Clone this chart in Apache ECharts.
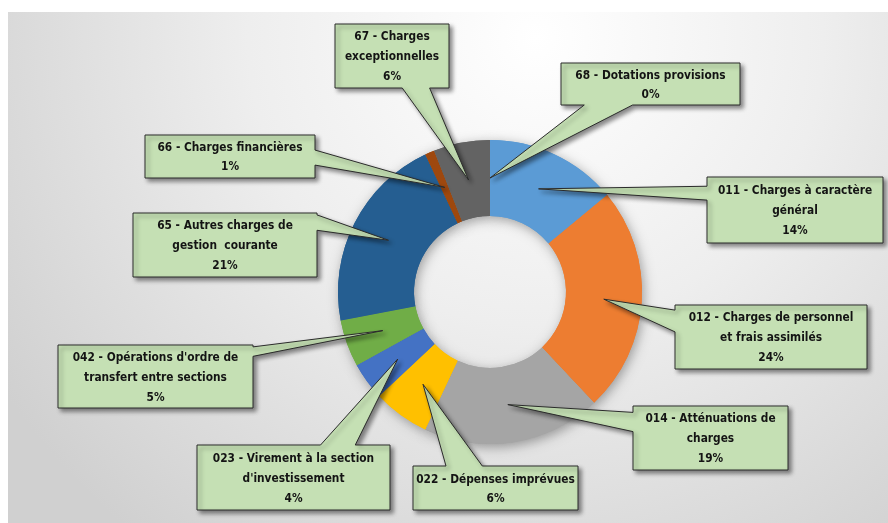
<!DOCTYPE html>
<html>
<head>
<meta charset="utf-8">
<script src="https://cdn.jsdelivr.net/npm/echarts@6/dist/echarts.min.js"></script>
<style>
  html, body { margin: 0; padding: 0; background: #ffffff; }
  #chart { width: 888px; height: 523px; }
</style>
</head>
<body>
<div id="chart"></div>
<script>
// Budget chapters (line breaks mark where each callout wraps)
const categories = [
  '011 - Charges à caractère\ngénéral',
  '012 - Charges de personnel\net frais assimilés',
  '014 - Atténuations de\ncharges',
  '022 - Dépenses imprévues',
  "023 - Virement à la section\nd'investissement",
  "042 - Opérations d'ordre de\ntransfert entre sections",
  '65 - Autres charges de\ngestion  courante',
  '66 - Charges financières',
  '67 - Charges\nexceptionnelles',
  '68 - Dotations provisions'
];
// Share of the total, in percent
const shares = [14, 24, 19, 6, 4, 5, 21, 1, 6, 0];
const sliceColors = ['#5B9BD5', '#ED7D31', '#A5A5A5', '#FFC000', '#4472C4',
                     '#70AD47', '#255E91', '#9E480E', '#636363', '#997300'];

// Callout boxes [left, top, right, bottom] and where the pointer leaves the box
const calloutBoxes = [
  [707, 177, 883, 243], [675, 305, 867, 369], [633, 406, 788, 470],
  [413, 466, 578, 510], [197, 445, 390, 510], [58, 345, 253, 408],
  [133, 213, 317, 277], [145, 135, 315, 178], [335, 24, 449, 88],
  [561, 63, 740, 105]
];
const pointerBases = [
  ['left', 0.14, 0.35], ['left', 0.08, 0.42], ['left', 0.10, 0.40],
  ['top', 0.20, 0.42], ['top', 0.64, 0.82], ['right', 0.03, 0.18],
  ['right', 0.03, 0.27], ['right', 0.35, 0.70], ['bottom', 0.59, 0.83],
  ['bottom', 0.13, 0.40]
];

// Pick a condensed face for the callout text when one is installed
function hasFont(family) {
  const ctx = document.createElement('canvas').getContext('2d');
  const sample = 'mmmmwwwwllliii 0123';
  ctx.font = 'bold 20px monospace';
  const ref = ctx.measureText(sample).width;
  ctx.font = 'bold 20px "' + family + '", monospace';
  return Math.abs(ctx.measureText(sample).width - ref) > 0.5;
}
let labelFont = { family: '"Liberation Sans", Arial, sans-serif', size: 12.5 };
if (hasFont('Liberation Sans Narrow')) {
  labelFont = { family: '"Liberation Sans Narrow", sans-serif', size: 15 };
} else if (hasFont('DejaVu Sans Condensed')) {
  labelFont = { family: '"DejaVu Sans Condensed", sans-serif', size: 11.8 };
}

const chart = echarts.init(document.getElementById('chart'), null, { renderer: 'canvas' });
const total = shares.reduce((a, b) => a + b, 0);
const pieData = categories.map((name, i) => ({
  name: name, value: shares[i], itemStyle: { color: sliceColors[i] }
}));

const ring = {
  type: 'pie',
  center: [490, 292],
  radius: [76, 152],
  startAngle: 90,
  clockwise: true,
  silent: true,
  avoidLabelOverlap: false,
  minAngle: 0,
  label: { show: false },
  labelLine: { show: false },
  animation: false,
  data: pieData
};

chart.setOption({
  backgroundColor: '#ffffff',
  animation: false,
  series: [
    // soft shadow under the ring
    Object.assign({}, ring, {
      z: 1,
      itemStyle: { shadowBlur: 12, shadowColor: 'rgba(0,0,0,0.35)', shadowOffsetX: 2, shadowOffsetY: 3 }
    }),
    Object.assign({}, ring, { z: 2, itemStyle: { borderWidth: 0 } })
  ]
});

// Pointer tip: middle of each slice, halfway through the ring
function sliceAnchor(i) {
  let lay = null;
  try {
    lay = chart.getModel().getSeriesByIndex(1).getData().getItemLayout(i);
  } catch (e) { lay = null; }
  if (!lay) {
    let acc = 0;
    for (let k = 0; k < i; k++) acc += shares[k];
    const a0 = -Math.PI / 2 + acc / total * 2 * Math.PI;
    const a1 = a0 + shares[i] / total * 2 * Math.PI;
    lay = { cx: 490, cy: 292, r: 152, r0: 76, startAngle: a0, endAngle: a1 };
  }
  const mid = (lay.startAngle + lay.endAngle) / 2;
  const rr = (lay.r + lay.r0) / 2;
  return [lay.cx + rr * Math.cos(mid), lay.cy + rr * Math.sin(mid)];
}

function calloutShape(box, base, tip) {
  const [x0, y0, x1, y1] = box;
  const [side, f0, f1] = base;
  const w = x1 - x0, h = y1 - y0;
  const pts = [[x0, y0]];
  if (side === 'top') pts.push([x0 + f0 * w, y0], tip, [x0 + f1 * w, y0]);
  pts.push([x1, y0]);
  if (side === 'right') pts.push([x1, y0 + f0 * h], tip, [x1, y0 + f1 * h]);
  pts.push([x1, y1]);
  if (side === 'bottom') pts.push([x0 + f1 * w, y1], tip, [x0 + f0 * w, y1]);
  pts.push([x0, y1]);
  if (side === 'left') pts.push([x0, y0 + f1 * h], tip, [x0, y0 + f0 * h]);
  return pts;
}

const elements = [{
  type: 'rect',
  z: -10,
  silent: true,
  shape: { x: 8, y: 12, width: 880, height: 511 },
  style: {
    fill: {
      type: 'radial', x: 0.6, y: 0.05, r: 1.25,
      colorStops: [
        { offset: 0, color: '#ffffff' },
        { offset: 0.45, color: '#eeeeee' },
        { offset: 1, color: '#d0d0d0' }
      ]
    }
  }
}];

categories.forEach((name, i) => {
  const box = calloutBoxes[i];
  const tip = sliceAnchor(i);
  elements.push({
    type: 'polygon',
    z: 10,
    silent: true,
    shape: { points: calloutShape(box, pointerBases[i], tip) },
    style: {
      fill: '#C5E0B4',
      stroke: '#2b2b2b',
      lineWidth: 1,
      lineJoin: 'miter',
      shadowBlur: 4,
      shadowColor: 'rgba(0,0,0,0.45)',
      shadowOffsetX: 3,
      shadowOffsetY: 3
    }
  });
  const pct = Math.round(shares[i] / total * 100) + '%';
  const lines = name.split('\n').length + 1;
  elements.push({
    type: 'text',
    z: 11,
    silent: true,
    style: {
      text: name + '\n' + pct,
      x: (box[0] + box[2]) / 2,
      y: (box[1] + box[3]) / 2 + 1,
      align: 'center',
      verticalAlign: 'middle',
      textAlign: 'center',
      textVerticalAlign: 'middle',
      fontFamily: labelFont.family,
      fontWeight: 'bold',
      fontSize: labelFont.size,
      lineHeight: lines === 2 ? 19 : 20,
      fill: '#141414'
    }
  });
});

chart.setOption({ graphic: { elements: elements } });
</script>
</body>
</html>
